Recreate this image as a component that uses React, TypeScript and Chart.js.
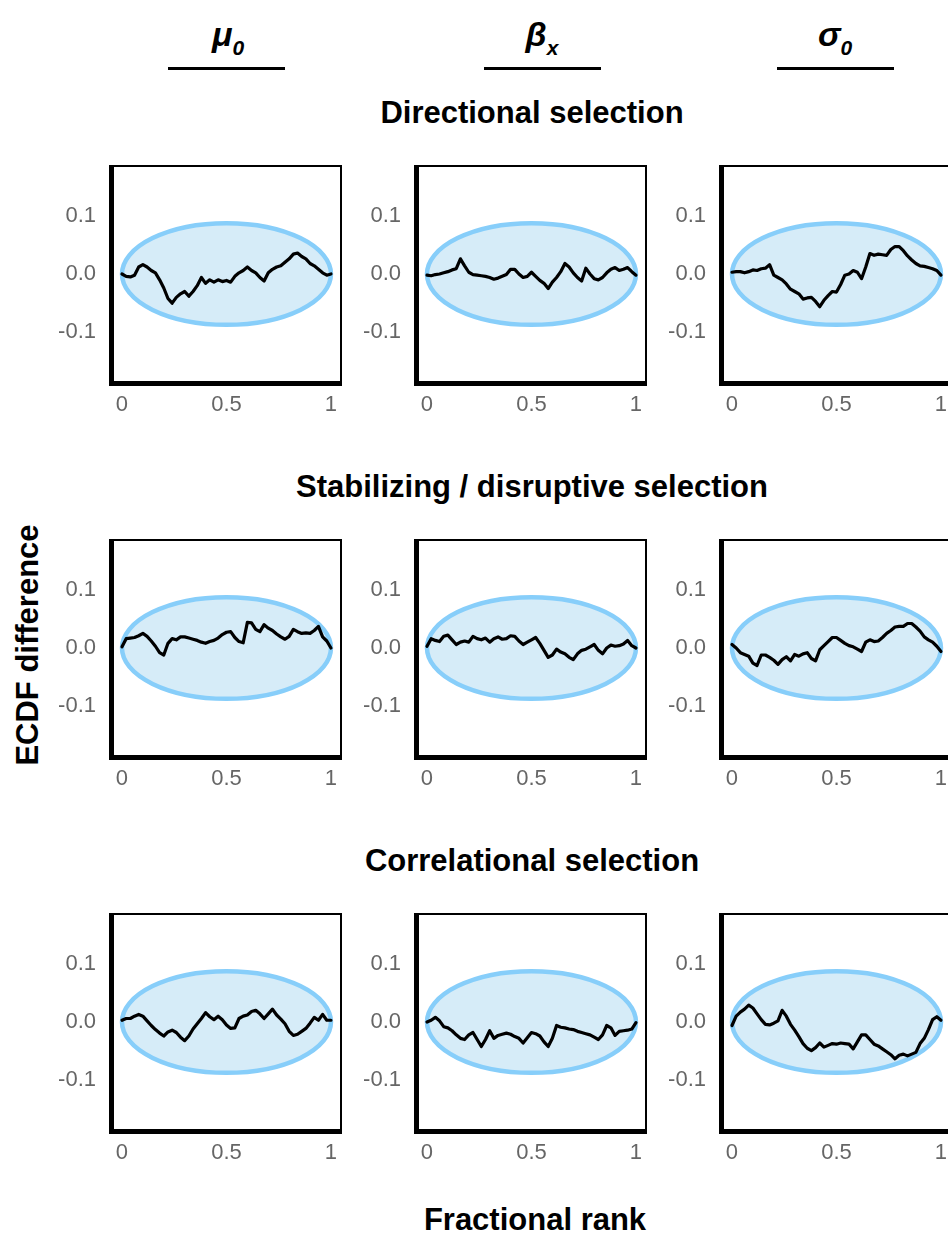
import React, { useEffect, useRef } from "react";
import { Chart, registerables } from "chart.js";

Chart.register(...registerables);

// ---------- data ----------
const RANKS = [
  0, 0.02, 0.04, 0.06, 0.08, 0.1, 0.12, 0.14, 0.16, 0.18, 0.2, 0.22, 0.24, 0.26, 0.28, 0.3, 0.32,
  0.34, 0.36, 0.38, 0.4, 0.42, 0.44, 0.46, 0.48, 0.5, 0.52, 0.54, 0.56, 0.58, 0.6, 0.62, 0.64,
  0.66, 0.68, 0.7, 0.72, 0.74, 0.76, 0.78, 0.8, 0.82, 0.84, 0.86, 0.88, 0.9, 0.92, 0.94, 0.96,
  0.98, 1,
];

const DIRECTIONAL_MU0 = [
  0.0, -0.004, -0.005, -0.002, 0.012, 0.016, 0.012, 0.006, 0.002, -0.01, -0.024, -0.042, -0.05,
  -0.04, -0.034, -0.03, -0.038, -0.03, -0.02, -0.006, -0.016, -0.01, -0.014, -0.01, -0.013,
  -0.011, -0.014, -0.004, 0.002, 0.006, 0.012, 0.006, 0.002, -0.006, -0.012, 0.002, 0.008, 0.012,
  0.014, 0.02, 0.026, 0.034, 0.036, 0.03, 0.026, 0.018, 0.014, 0.008, 0.002, -0.002, 0.0,
];
const DIRECTIONAL_BETAX = [
  -0.002, -0.003, -0.001, 0.0, 0.002, 0.004, 0.007, 0.009, 0.026, 0.014, 0.003, -0.001, -0.002,
  -0.003, -0.004, -0.006, -0.009, -0.007, -0.004, -0.001, 0.008, 0.008, 0.0, -0.006, -0.004,
  0.003, -0.004, -0.011, -0.016, -0.025, -0.014, -0.006, 0.004, 0.018, 0.012, 0.002, -0.006,
  -0.012, 0.01, 0.0, -0.008, -0.01, -0.006, 0.002, 0.008, 0.011, 0.006, 0.008, 0.011, 0.004,
  -0.002,
];
const DIRECTIONAL_SIGMA0 = [
  0.003, 0.004, 0.004, 0.002, 0.004, 0.007, 0.006, 0.009, 0.01, 0.016, -0.002, -0.006, -0.01,
  -0.017, -0.026, -0.03, -0.034, -0.043, -0.041, -0.04, -0.047, -0.056, -0.045, -0.037, -0.03,
  -0.031, -0.018, -0.002, 0.0, 0.006, 0.003, -0.008, 0.012, 0.035, 0.032, 0.034, 0.033, 0.032,
  0.042, 0.047, 0.047, 0.04, 0.031, 0.024, 0.018, 0.014, 0.013, 0.011, 0.009, 0.006, -0.002,
];
const STABILIZING_MU0 = [
  0.002, 0.016, 0.017, 0.018, 0.021, 0.025, 0.02, 0.012, 0.003, -0.008, -0.012, 0.008, 0.016,
  0.014, 0.019, 0.019, 0.017, 0.015, 0.013, 0.01, 0.008, 0.011, 0.013, 0.017, 0.023, 0.027,
  0.028, 0.018, 0.011, 0.009, 0.044, 0.043, 0.032, 0.028, 0.04, 0.034, 0.03, 0.024, 0.019,
  0.015, 0.02, 0.032, 0.028, 0.025, 0.026, 0.025, 0.03, 0.037, 0.019, 0.012, 0.0,
];
const STABILIZING_BETAX = [
  0.003, 0.016, 0.013, 0.011, 0.02, 0.022, 0.014, 0.006, 0.01, 0.012, 0.01, 0.02, 0.016, 0.014,
  0.017, 0.01, 0.016, 0.019, 0.015, 0.016, 0.021, 0.02, 0.012, 0.006, 0.01, 0.014, 0.018, 0.008,
  -0.004, -0.016, -0.012, -0.002, -0.007, -0.01, -0.016, -0.02, -0.01, -0.004, -0.002, 0.002,
  0.006, -0.004, -0.01, 0.0, 0.005, 0.003, 0.004, 0.007, 0.013, 0.004, 0.0,
];
const STABILIZING_SIGMA0 = [
  0.006, 0.0, -0.008, -0.011, -0.014, -0.026, -0.03, -0.012, -0.012, -0.016, -0.021, -0.028,
  -0.02, -0.015, -0.022, -0.011, -0.014, -0.01, -0.008, -0.018, -0.022, -0.003, 0.004, 0.011,
  0.018, 0.018, 0.013, 0.008, 0.004, 0.002, -0.002, -0.006, 0.01, 0.014, 0.011, 0.012, 0.018,
  0.025, 0.03, 0.036, 0.037, 0.037, 0.042, 0.042, 0.036, 0.029, 0.019, 0.014, 0.01, 0.003,
  -0.006,
];
const CORRELATIONAL_MU0 = [
  0.003, 0.006, 0.006, 0.01, 0.013, 0.01, 0.002, -0.006, -0.013, -0.019, -0.024, -0.017, -0.014,
  -0.018, -0.026, -0.032, -0.024, -0.012, -0.003, 0.006, 0.016, 0.009, 0.004, 0.01, 0.004,
  -0.005, -0.011, -0.01, 0.006, 0.01, 0.012, 0.018, 0.02, 0.014, 0.006, 0.014, 0.022, 0.012,
  0.005, -0.003, -0.016, -0.023, -0.021, -0.016, -0.011, -0.002, 0.008, 0.003, 0.013, 0.003,
  0.003,
];
const CORRELATIONAL_BETAX = [
  0.0, 0.003, 0.008, 0.002, -0.008, -0.01, -0.015, -0.022, -0.028, -0.03, -0.022, -0.018, -0.03,
  -0.042, -0.03, -0.015, -0.028, -0.023, -0.021, -0.019, -0.021, -0.025, -0.028, -0.036, -0.027,
  -0.018, -0.02, -0.024, -0.034, -0.042, -0.028, -0.006, -0.009, -0.01, -0.012, -0.013, -0.016,
  -0.018, -0.02, -0.022, -0.026, -0.03, -0.022, -0.006, -0.01, -0.023, -0.016, -0.015, -0.014,
  -0.012, -0.001,
];
const CORRELATIONAL_SIGMA0 = [
  -0.006, 0.01, 0.017, 0.022, 0.029, 0.024, 0.014, 0.004, -0.004, -0.005, -0.002, 0.002, 0.02,
  0.01, -0.004, -0.014, -0.025, -0.037, -0.045, -0.049, -0.044, -0.036, -0.043, -0.04, -0.037,
  -0.038, -0.036, -0.037, -0.038, -0.046, -0.034, -0.022, -0.022, -0.03, -0.038, -0.041, -0.046,
  -0.051, -0.056, -0.063, -0.057, -0.055, -0.058, -0.055, -0.052, -0.037, -0.028, -0.013, 0.004,
  0.009, 0.003,
];

const COLUMN_SYMBOLS = ["μ", "β", "σ"];
const COLUMN_SUBSCRIPTS = ["0", "x", "0"];
const ROW_TITLES = [
  "Directional selection",
  "Stabilizing / disruptive selection",
  "Correlational selection",
];
const Y_AXIS_TITLE = "ECDF difference";
const X_AXIS_TITLE = "Fractional rank";

const X_TICKS = [0, 0.5, 1];
const X_TICK_LABELS = ["0", "0.5", "1"];
const Y_TICKS = [-0.1, 0, 0.1];
const Y_TICK_LABELS = ["-0.1", "0.0", "0.1"];

const PANEL_SERIES = [
  [DIRECTIONAL_MU0, DIRECTIONAL_BETAX, DIRECTIONAL_SIGMA0],
  [STABILIZING_MU0, STABILIZING_BETAX, STABILIZING_SIGMA0],
  [CORRELATIONAL_MU0, CORRELATIONAL_BETAX, CORRELATIONAL_SIGMA0],
];

// envelope (null region) parameters
const ENVELOPE_CENTER_X = 0.5;
const ENVELOPE_HALF_WIDTH = 0.5;
const ENVELOPE_HALF_HEIGHT = 0.087;

// ---------- layout / style ----------
const FONT = '"Liberation Sans", Arial, Helvetica, sans-serif';
const X_MIN = -0.043;
const X_MAX = 1.048;
const Y_MIN = -0.185;
const Y_MAX = 0.185;
const AREA_W = 228;
const AREA_H = 216;
const Y_AXIS_W = 63;
const X_AXIS_H = 40;
const PAD_TOP = 5;
const PAD_RIGHT = 10;
const COL_LEFTS = [113, 418, 723];
const ROW_TOPS = [166, 540, 914];

const envelopePlugin = {
  id: "envelope",
  beforeDatasetsDraw(chart: any) {
    const { ctx, scales } = chart;
    const x = scales.x;
    const y = scales.y;
    const cx = x.getPixelForValue(ENVELOPE_CENTER_X);
    const rx = x.getPixelForValue(ENVELOPE_CENTER_X + ENVELOPE_HALF_WIDTH) - cx;
    const cy = y.getPixelForValue(0);
    const ry = cy - y.getPixelForValue(ENVELOPE_HALF_HEIGHT);
    ctx.save();
    ctx.beginPath();
    ctx.ellipse(cx, cy, rx, ry, 0, 0, Math.PI * 2);
    ctx.fillStyle = "rgb(214,236,248)";
    ctx.fill();
    ctx.lineWidth = 4.5;
    ctx.strokeStyle = "rgb(135,206,250)";
    ctx.stroke();
    ctx.restore();
  },
};

const framePlugin = {
  id: "panelFrame",
  afterDraw(chart: any) {
    const { ctx } = chart;
    const { left, right, top, bottom } = chart.chartArea;
    ctx.save();
    ctx.strokeStyle = "#000";
    ctx.lineWidth = 2;
    ctx.strokeRect(left, top, right - left, bottom - top);
    ctx.lineWidth = 5;
    ctx.lineJoin = "miter";
    ctx.beginPath();
    ctx.moveTo(left - 1.5, top - 1);
    ctx.lineTo(left - 1.5, bottom + 1.5);
    ctx.lineTo(right + 1, bottom + 1.5);
    ctx.stroke();
    ctx.restore();
  },
};

function zeroPadding(s: any) {
  s.paddingTop = 0;
  s.paddingBottom = 0;
  s.paddingLeft = 0;
  s.paddingRight = 0;
}

function Panel({ values, left, top }: { values: number[]; left: number; top: number }) {
  const ref = useRef<HTMLCanvasElement>(null);
  useEffect(() => {
    if (!ref.current) return;
    const chart = new Chart(ref.current, {
      type: "line",
      data: {
        datasets: [
          {
            data: RANKS.map((r, i) => ({ x: r, y: values[i] })),
            borderColor: "#000",
            borderWidth: 3.2,
            pointRadius: 0,
            tension: 0,
            fill: false,
            borderJoinStyle: "round",
            borderCapStyle: "round",
          },
        ],
      },
      options: {
        responsive: false,
        animation: false,
        devicePixelRatio: 1,
        layout: { padding: { top: PAD_TOP, right: PAD_RIGHT, left: 0, bottom: 0 } },
        plugins: { legend: { display: false }, tooltip: { enabled: false } },
        scales: {
          x: {
            type: "linear",
            min: X_MIN,
            max: X_MAX,
            grid: { display: false, drawTicks: false },
            border: { display: false },
            afterBuildTicks: (s: any) => {
              s.ticks = X_TICKS.map((v) => ({ value: v }));
            },
            afterFit: (s: any) => {
              s.height = X_AXIS_H;
              zeroPadding(s);
            },
            ticks: {
              padding: 10,
              color: "#666",
              autoSkip: false,
              maxRotation: 0,
              font: { family: FONT, size: 22 },
              callback: (v: any) => X_TICK_LABELS[X_TICKS.indexOf(Number(v))],
            },
          },
          y: {
            type: "linear",
            min: Y_MIN,
            max: Y_MAX,
            grid: { display: false, drawTicks: false },
            border: { display: false },
            afterBuildTicks: (s: any) => {
              s.ticks = Y_TICKS.map((v) => ({ value: v }));
            },
            afterFit: (s: any) => {
              s.width = Y_AXIS_W;
              zeroPadding(s);
            },
            ticks: {
              padding: 17,
              color: "#666",
              autoSkip: false,
              font: { family: FONT, size: 22 },
              callback: (v: any) => Y_TICK_LABELS[Y_TICKS.indexOf(Number(v))],
            },
          },
        },
      },
      plugins: [envelopePlugin, framePlugin],
    } as any);
    return () => chart.destroy();
  }, [values]);
  return (
    <canvas
      ref={ref}
      width={Y_AXIS_W + AREA_W + PAD_RIGHT}
      height={PAD_TOP + AREA_H + X_AXIS_H}
      style={{
        position: "absolute",
        left: left - Y_AXIS_W,
        top: top - PAD_TOP,
        width: Y_AXIS_W + AREA_W + PAD_RIGHT,
        height: PAD_TOP + AREA_H + X_AXIS_H,
      }}
    />
  );
}

const HEADER_CENTERS = [228, 542, 835];
const UNDERLINE_CENTERS = [226.5, 542.5, 835.5];

export default function App() {
  return (
    <div
      style={{
        position: "fixed",
        left: 0,
        top: 0,
        width: 948,
        height: 1236,
        overflow: "hidden",
        background: "#fff",
        fontFamily: FONT,
        color: "#000",
      }}
    >
      {COLUMN_SYMBOLS.map((sym, i) => (
        <React.Fragment key={"h" + i}>
          <div
            style={{
              position: "absolute",
              left: HEADER_CENTERS[i],
              top: 17,
              transform: "translateX(-50%)",
              fontSize: 34,
              lineHeight: "34px",
              fontWeight: "bold",
              fontStyle: "italic",
              whiteSpace: "nowrap",
            }}
          >
            {sym}
            <span style={{ fontSize: 21, position: "relative", top: 9 }}>
              {COLUMN_SUBSCRIPTS[i]}
            </span>
          </div>
          <div
            style={{
              position: "absolute",
              left: UNDERLINE_CENTERS[i] - 58.5,
              top: 66.5,
              width: 117,
              height: 3,
              background: "#000",
            }}
          />
        </React.Fragment>
      ))}

      {ROW_TITLES.map((t, r) => (
        <div
          key={"t" + r}
          style={{
            position: "absolute",
            left: 532,
            top: ROW_TOPS[r] - 69,
            transform: "translateX(-50%)",
            fontSize: 31,
            lineHeight: "31px",
            fontWeight: "bold",
            whiteSpace: "nowrap",
          }}
        >
          {t}
        </div>
      ))}

      {PANEL_SERIES.map((row, r) =>
        row.map((vals, c) => (
          <Panel key={r + "-" + c} values={vals} left={COL_LEFTS[c]} top={ROW_TOPS[r]} />
        ))
      )}

      <div
        style={{
          position: "absolute",
          left: 27,
          top: 645,
          transform: "translate(-50%, -50%) rotate(-90deg)",
          fontSize: 31,
          lineHeight: "31px",
          fontWeight: "bold",
          whiteSpace: "nowrap",
        }}
      >
        {Y_AXIS_TITLE}
      </div>

      <div
        style={{
          position: "absolute",
          left: 535,
          top: 1204,
          transform: "translateX(-50%)",
          fontSize: 31,
          lineHeight: "31px",
          fontWeight: "bold",
          whiteSpace: "nowrap",
        }}
      >
        {X_AXIS_TITLE}
      </div>
    </div>
  );
}
